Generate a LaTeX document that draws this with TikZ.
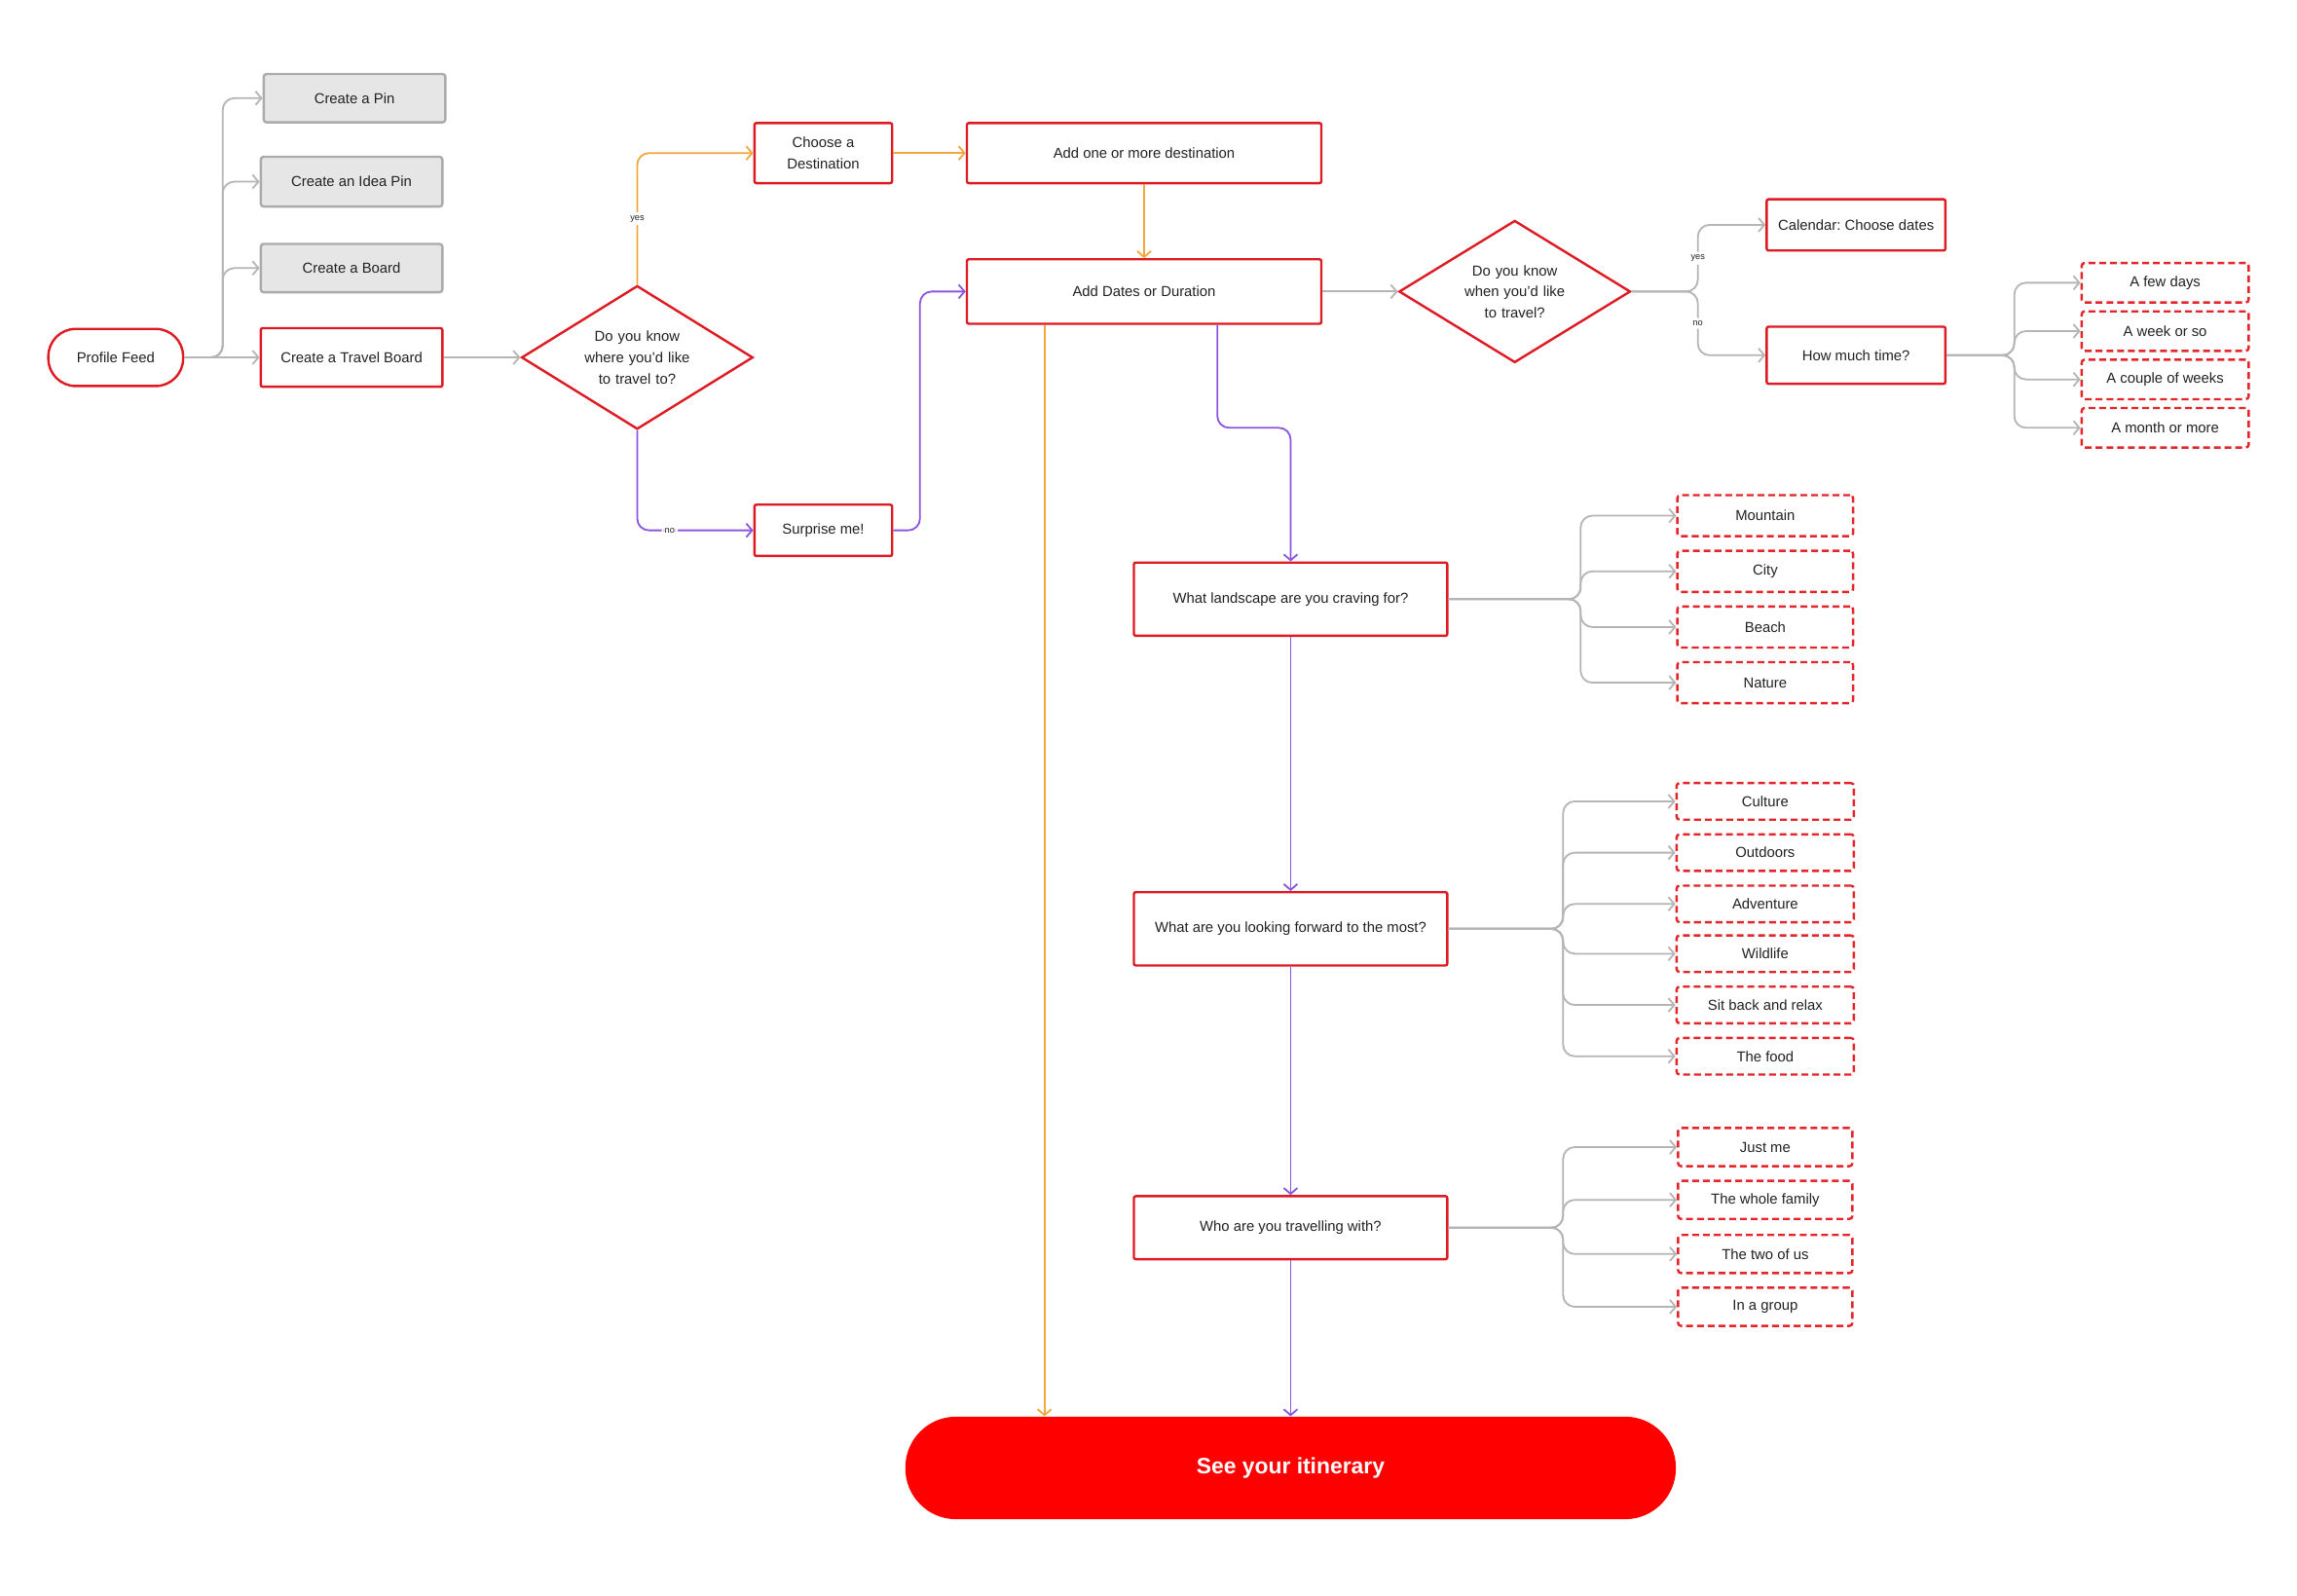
\documentclass[tikz,border=0pt]{standalone}
\usepackage{fontspec}
\setmainfont{Liberation Sans}
\usetikzlibrary{arrows.meta,shapes.geometric}
\definecolor{bred}{HTML}{DE1A22}
\definecolor{dred}{HTML}{E3262C}
\definecolor{itred}{HTML}{FF0000}
\definecolor{org}{HTML}{F2A83C}
\definecolor{pur}{HTML}{8B55E0}
\definecolor{lgray}{HTML}{B5B5B5}
\definecolor{gfill}{HTML}{E6E6E6}
\definecolor{gborder}{HTML}{ABABAB}
\definecolor{txt}{HTML}{222222}
\frenchspacing
\tikzset{
  base/.style={font=\fontsize{7.4}{10.8}\selectfont, text=txt, align=center, inner sep=0pt},
  rbox/.style={base, draw=bred, line width=1.2pt, rounded corners=1pt, fill=white},
  gbox/.style={base, draw=gborder, fill=gfill, line width=1.2pt, rounded corners=1.5pt},
  dbox/.style={base, draw=dred, line width=1.2pt, dash pattern=on 3.5pt off 2pt, rounded corners=1.5pt},
  dia/.style={shape=diamond, draw=bred, line width=1.2pt, fill=white, inner sep=0pt},
  diatext/.style={base, text width=70pt},
  conn/.style={line width=0.9pt, rounded corners=6pt, -{Straight Barb[length=3pt,width=7pt]}},
  gl/.style={conn, draw=lgray},
  ol/.style={conn, draw=org},
  pl/.style={conn, draw=pur},
  lbl/.style={fill=white, inner sep=1.5pt, font=\fontsize{4.6}{5}\selectfont, text=txt},
}
\begin{document}
\begin{tikzpicture}[x=0.75pt,y=-0.75pt]
\useasboundingbox[fill=white] (0,0) rectangle (1568,1089);

% trunk coordinates
\coordinate (t1) at (152,0);
\coordinate (t2) at (1159,0);
\coordinate (t3) at (1375,0);
\coordinate (t4) at (1079,0);
\coordinate (t5) at (1067,0);
\coordinate (t6) at (1067,0);
\coordinate (sx) at (628,0);
\coordinate (ox) at (713,0);
\coordinate (px) at (831,292);

% left column
\node[rbox, rounded corners=14pt, minimum width=69pt, minimum height=29.25pt] (pf) at (79,244) {Profile Feed};
\node[gbox, minimum width=93pt, minimum height=24.75pt] (pin) at (242,67) {Create a Pin};
\node[gbox, minimum width=93pt, minimum height=25.5pt] (idea) at (240,124) {Create an Idea Pin};
\node[gbox, minimum width=93pt, minimum height=24.75pt] (board) at (240,183) {Create a Board};
\node[rbox, minimum width=93pt, minimum height=30pt] (tb) at (240,244) {Create a Travel Board};

\foreach \n in {pin,idea,board}
  \draw[gl] (pf.east) -- (pf.east -| t1) |- (\n.west);
\draw[gl] (pf.east) -- (tb.west);

% first decision
\node[dia, minimum width=118.5pt, minimum height=73.5pt,
      label={[diatext]center:Do you know\\where you'd like\\to travel to?}] (d1) at (435,244) {};
\draw[gl] (tb.east) -- (d1.west);

\node[rbox, minimum width=70.5pt, minimum height=30.75pt] (choose) at (562,104.5) {Choose a\\Destination};
\node[rbox, minimum width=181.5pt, minimum height=30.75pt] (addone) at (781,104.5) {Add one or more destination};
\node[rbox, minimum width=181.5pt, minimum height=33pt] (dates) at (781,199) {Add Dates or Duration};
\node[rbox, minimum width=70.5pt, minimum height=26.25pt] (surp) at (562,362) {Surprise me!};

\draw[ol] (d1.north) |- node[lbl, pos=0.25] {yes} (choose.west);
\draw[ol] (choose.east) -- (addone.west);
\draw[ol] (addone.south) -- (dates.north);
\draw[pl] (d1.south) |- node[lbl, pos=0.64] {no} (surp.west);
\draw[pl] (surp.east) -- (surp.east -| sx) |- (dates.west);

% second decision
\node[dia, minimum width=118.5pt, minimum height=72.75pt,
      label={[diatext]center:Do you know\\when you'd like\\to travel?}] (d2) at (1034,199) {};
\draw[gl] (dates.east) -- (d2.west);
\node[rbox, minimum width=91.5pt, minimum height=26.25pt] (cal) at (1267,153.5) {Calendar: Choose dates};
\node[rbox, minimum width=91.5pt, minimum height=29.25pt] (howm) at (1267,242.5) {How much time?};
\draw[gl] (d2.east) -- (d2.east -| t2) |- node[lbl, pos=0.25] {yes} (cal.west);
\draw[gl] (d2.east) -- (d2.east -| t2) |- node[lbl, pos=0.25] {no} (howm.west);

\foreach \n/\t/\y in {fewd/A few days/193, week/A week or so/226, couple/A couple of weeks/259, month/A month or more/292}{
  \node[dbox, minimum width=85.5pt, minimum height=20.25pt] (\n) at (1478,\y) {\t};
  \draw[gl] (howm.east) -- (howm.east -| t3) |- (\n.west);
}

% question column
\node[rbox, minimum width=160.5pt, minimum height=37.5pt] (land) at (881,409) {What landscape are you craving for?};
\node[rbox, minimum width=160.5pt, minimum height=37.5pt] (fwd) at (881,634) {What are you looking forward to the most?};
\node[rbox, minimum width=160.5pt, minimum height=32.25pt] (who) at (881,838) {Who are you travelling with?};
\node[fill=itred, rounded corners=26pt, minimum width=394.5pt, minimum height=52.5pt, inner sep=0pt,
      font=\bfseries\fontsize{11.4}{13}\selectfont, text=white] (itin) at (881,1002) {See your itinerary};

\draw[pl] (px |- dates.south) -- (px) -| (land.north);
\draw[pl] (land.south) -- (fwd.north);
\draw[pl] (fwd.south) -- (who.north);
\draw[pl] (who.south) -- (itin.north);
\draw[ol] (ox |- dates.south) -- (ox |- itin.north);

\foreach \n/\t/\y in {mtn/Mountain/352, city/City/390, beach/Beach/428, nat/Nature/466}{
  \node[dbox, minimum width=90pt, minimum height=21pt] (\n) at (1205,\y) {\t};
  \draw[gl] (land.east) -- (land.east -| t4) |- (\n.west);
}
\foreach \n/\t/\y in {cult/Culture/547, outd/Outdoors/582, adv/Adventure/617, wild/Wildlife/651, sit/Sit back and relax/686, food/The food/721}{
  \node[dbox, minimum width=90.75pt, minimum height=18.75pt] (\n) at (1205,\y) {\t};
  \draw[gl] (fwd.east) -- (fwd.east -| t5) |- (\n.west);
}
\foreach \n/\t/\y in {just/Just me/783, fam/The whole family/819, two/The two of us/856, grp/In a group/892}{
  \node[dbox, minimum width=89.25pt, minimum height=19.5pt] (\n) at (1205,\y) {\t};
  \draw[gl] (who.east) -- (who.east -| t6) |- (\n.west);
}
\end{tikzpicture}
\end{document}
